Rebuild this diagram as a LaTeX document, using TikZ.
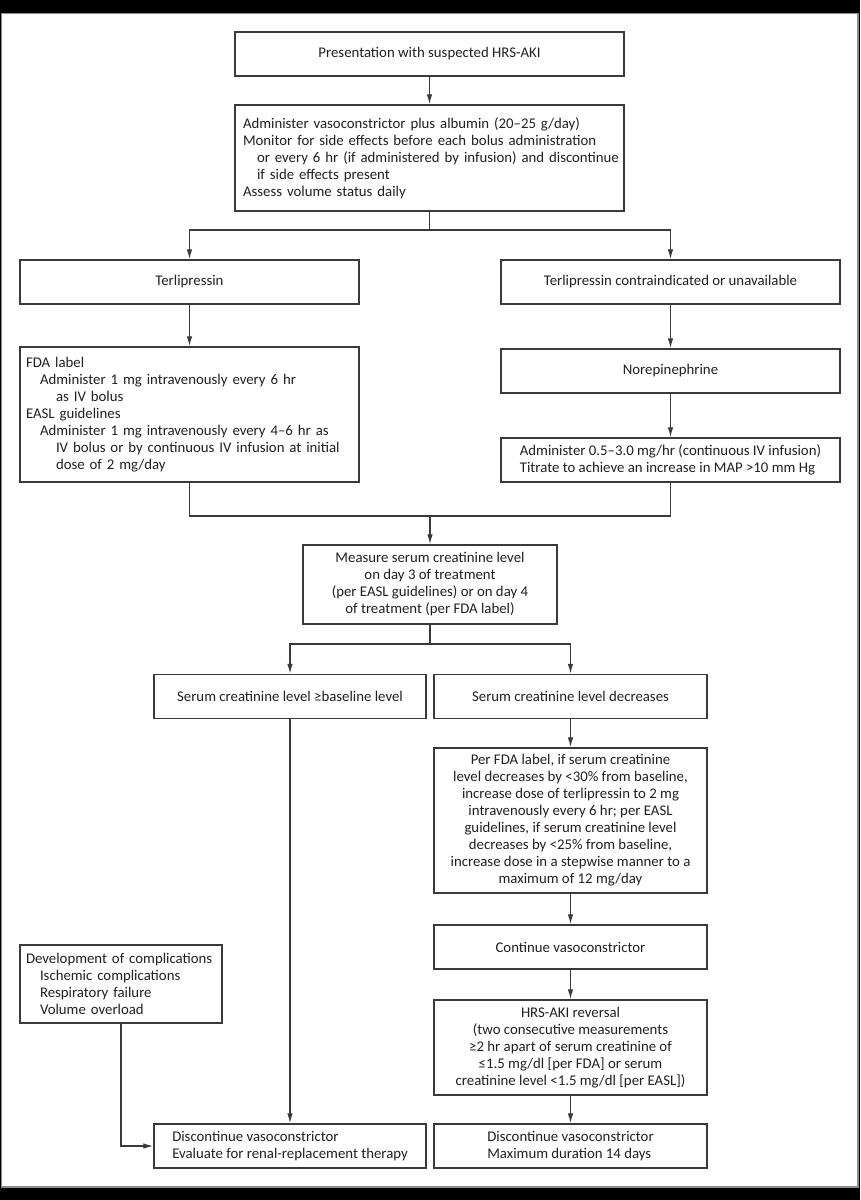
\documentclass[tikz,border=0pt]{standalone}
\usepackage{fontspec}
\setmainfont{Carlito}
\usepackage{xcolor}
\usetikzlibrary{arrows.meta,positioning}
\definecolor{ink}{HTML}{3A3A3A}
\definecolor{textink}{HTML}{231F20}
\definecolor{framegray}{HTML}{8C8C8C}
\newcommand{\ind}{\hspace*{14pt}}
\newcommand{\indd}{\hspace*{30pt}}
\tikzset{
  font=\fontsize{14.8}{17}\selectfont,
  >={Latex[length=10pt,width=5.5pt]},
  flow/.style={draw=ink, line width=1.2pt, ->},
  link/.style={draw=ink, line width=1.2pt},
  box/.style={draw=ink, fill=white, line width=1.4pt, align=center,
    minimum height=44pt, inner sep=4pt, text=textink},
  wide/.style={box, minimum width=339pt},
  mid/.style={box, minimum width=273pt},
  listbox/.style={box, align=left, inner xsep=6pt}
}

\begin{document}
\begin{tikzpicture}[x=1pt,y=-1pt]
  % page frame
  \fill[black] (0,0) rectangle (860,1200);
  \path[draw=framegray, fill=white, line width=1.5pt] (1.5,13.5) rectangle (858,1187);

  % -------------------------------------------------------------------
  % Start of treatment.
  \node[box, minimum width=389pt] (present) at (429.5,54)
    {Presentation with suspected HRS-AKI};
  \node[listbox, text width=373pt, inner xsep=8pt, minimum height=106pt] (start) at (429.5,158)
    {Administer vasoconstrictor plus albumin (20–25 g/day)\\
     Monitor for side effects before each bolus administration\\
     \mbox{\ind or every 6 hr (if administered by infusion) and discontinue}\\
     \ind if side effects present\\
     Assess volume status daily};
  \draw[flow] (present) -- (start);

  % -------------------------------------------------------------------
  % Choice of vasoconstrictor.
  \node[wide] (terli) at (189.5,282) {Terlipressin};
  \node[wide] (noterli) at (670.5,282) {Terlipressin contraindicated or unavailable};
  \coordinate (split1) at (429.5,230);
  \draw[link] (start) -- (split1);
  \draw[flow] (split1) -| (terli);
  \draw[flow] (split1) -| (noterli);

  \node[listbox, text width=327pt, minimum height=135pt] (fda) at (189.5,414.5)
    {FDA label\\
     \ind Administer 1 mg intravenously every 6 hr\\
     \indd as IV bolus\\
     EASL guidelines\\
     \ind Administer 1 mg intravenously every 4–6 hr as\\
     \indd IV bolus or by continuous IV infusion at initial\\
     \indd dose of 2 mg/day};
  \draw[flow] (terli) -- (fda);

  \node[wide] (norepi) at (670.5,371) {Norepinephrine};
  \node[wide, align=left] (noredose) at (670.5,460)
    {Administer 0.5–3.0 mg/hr (continuous IV infusion)\\
     Titrate to achieve an increase in MAP >10 mm Hg};
  \draw[flow] (noterli) -- (norepi);
  \draw[flow] (norepi) -- (noredose);

  % -------------------------------------------------------------------
  % Response check.
  \node[box, minimum width=254pt, minimum height=79pt] (measure) at (430,584.5)
    {Measure serum creatinine level\\
     on day 3 of treatment\\
     (per EASL guidelines) or on day 4\\
     of treatment (per FDA label)};
  \coordinate (merge) at (430,516);
  \draw[link] (fda) |- (merge);
  \draw[link] (noredose) |- (merge);
  \draw[flow] (merge) -- (measure);

  \node[mid, minimum width=272pt] (nodrop) at (290,696.5)
    {Serum creatinine level ≥baseline level};
  \node[mid] (drop) at (570.5,696.5) {Serum creatinine level decreases};
  \coordinate (split2) at (430,644);
  \draw[link] (measure) -- (split2);
  \draw[flow] (split2) -| (nodrop);
  \draw[flow] (split2) -| (drop);

  \node[mid, minimum height=145pt] (titrate) at (570.5,820.5)
    {Per FDA label, if serum creatinine\\
     level decreases by <30\% from baseline,\\
     increase dose of terlipressin to 2 mg\\
     intravenously every 6 hr; per EASL\\
     guidelines, if serum creatinine level\\
     decreases by <25\% from baseline,\\
     increase dose in a stepwise manner to a\\
     maximum of 12 mg/day};
  \node[mid] (keep) at (570.5,947) {Continue vasoconstrictor};
  \node[mid, minimum height=95pt] (reversal) at (570.5,1047.5)
    {HRS-AKI reversal\\
     (two consecutive measurements\\
     ≥2 hr apart of serum creatinine of\\
     ≤1.5 mg/dl [per FDA] or serum\\
     creatinine level <1.5 mg/dl [per EASL])};
  \node[mid, align=left] (stopA) at (570.5,1146)
    {Discontinue vasoconstrictor\\
     Maximum duration 14 days};
  \draw[flow] (drop) -- (titrate);
  \draw[flow] (titrate) -- (keep);
  \draw[flow] (keep) -- (reversal);
  \draw[flow] (reversal) -- (stopA);

  % -------------------------------------------------------------------
  % Stopping for failure or complications.
  \node[mid, minimum width=272pt, align=left] (stopB) at (290,1146)
    {Discontinue vasoconstrictor\\
     Evaluate for renal-replacement therapy};
  \node[listbox, text width=190pt, minimum height=78pt] (compl) at (121,984)
    {Development of complications\\
     \ind Ischemic complications\\
     \ind Respiratory failure\\
     \ind Volume overload};
  \draw[flow] (nodrop) -- (stopB);
  \draw[flow] (compl) |- (stopB);
\end{tikzpicture}
\end{document}
